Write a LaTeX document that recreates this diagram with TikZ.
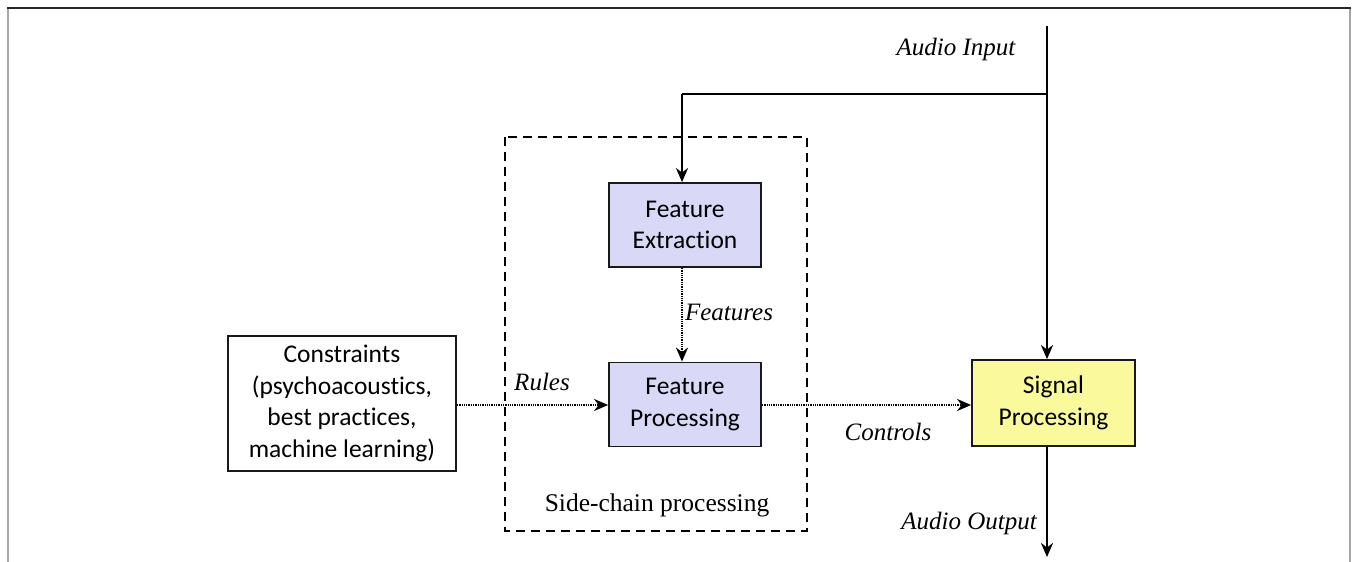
\documentclass[tikz,border=0pt]{standalone}
\usepackage{fontspec}
\setmainfont{Liberation Serif}
\newfontfamily\boxfont[Ligatures=NoCommon]{Carlito}
\usetikzlibrary{arrows.meta}
\definecolor{lavender}{HTML}{D9D9F7}
\definecolor{paleyellow}{HTML}{FAFA9C}
\begin{document}
\begin{tikzpicture}[x=1pt,y=-1pt,
  block/.style={draw=black!90, line width=1.8pt, minimum width=152pt, minimum height=84pt,
    align=center, font=\boxfont\fontsize{25.5}{31.5}\selectfont, inner sep=0pt},
  lbl/.style={font=\itshape\fontsize{25}{30}\selectfont, inner sep=0pt},
  flow/.style={line width=2.6pt, -{Stealth[length=14pt,width=12pt,inset=4.5pt]}},
  dotflow/.style={line width=2.2pt, dash pattern=on 1.3pt off 1pt,
    -{Stealth[length=14pt,width=12pt,inset=4.5pt]}},
]
\useasboundingbox (0,0) rectangle (1358,562);
% outer frame
\draw[gray!70, line width=2.4pt] (8,562) -- (8,8);
\draw[gray!70, line width=2.4pt] (1350,8) -- (1350,562);
\draw[black!85, line width=1.8pt] (7,8) -- (1351,8);

% side-chain region
\draw[line width=2pt, dash pattern=on 9pt off 6pt] (505,137) rectangle (807,531);
\node[font=\fontsize{25.5}{30}\selectfont, inner sep=0pt] (sclabel) at (657,505) {Side-chain processing};

% blocks
\node[block, fill=lavender] (fe) at (685,225) {Feature\\Extraction};
\node[block, fill=lavender] (fp) at (685,404.5) {Feature\\Processing};
\node[block, fill=white, minimum width=228pt, minimum height=135pt] (cons) at (342,403.5)
  {Constraints\\(psychoacoustics,\\best practices,\\machine learning)};
\node[block, fill=paleyellow, minimum width=163pt, minimum height=86pt] (sp) at (1053.5,403)
  {Signal\\Processing};

% signal path
\coordinate (in) at (1047,26);
\coordinate (branch) at (1047,94);
\coordinate (corner) at (682,94);
\coordinate (out) at (1047,557);
\draw[flow] (in) -- (sp.north -| in);
\draw[line width=2.6pt] (branch) -- (corner);
\draw[flow] (corner) -- (fe.north -| corner);
\draw[flow] (sp.south -| in) -- (out);

% control path
\draw[dotflow] (fe.south -| corner) -- (fp.north -| corner);
\draw[dotflow] (cons.east |- 0,405) -- (fp.west |- 0,405);
\draw[dotflow] (fp.east |- 0,405) -- (sp.west |- 0,405);

% labels
\node[lbl] (ain) at (956,49) {Audio Input};
\node[lbl] (feat) at (729,312) {Features};
\node[lbl] (rules) at (542,382) {Rules};
\node[lbl] (ctrl) at (888,432) {Controls};
\node[lbl] (aout) at (969,523) {Audio Output};
\end{tikzpicture}
\end{document}
